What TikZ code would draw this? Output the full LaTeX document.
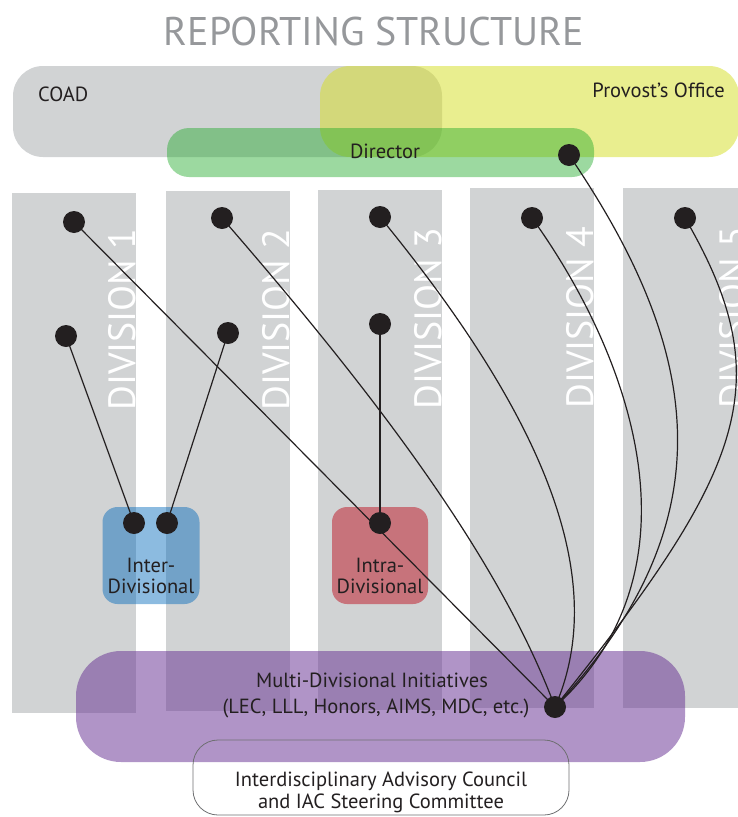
\documentclass[tikz,border=0pt]{standalone}
\usepackage{fontspec}
\setmainfont{PT Sans}
\definecolor{colgray}{RGB}{209,211,212}
\definecolor{provy}{RGB}{213,222,40}
\definecolor{dirg}{RGB}{35,171,44}
\definecolor{interb}{RGB}{0,104,187}
\definecolor{intrar}{RGB}{190,20,35}
\definecolor{multip}{RGB}{104,50,148}
\definecolor{ink}{RGB}{35,31,32}
\definecolor{titleg}{RGB}{150,152,155}
\definecolor{iacline}{RGB}{110,111,113}
\begin{document}
\begin{tikzpicture}[x=1pt,y=-1pt,
  box/.style={inner sep=0pt, outer sep=0pt, draw=none},
  column/.style={box, fill=colgray, minimum width=124pt, minimum height=520pt, anchor=north west},
  divlabel/.style={rotate=90, anchor=south west, inner sep=0pt, text=white, font=\fontsize{38}{44}\selectfont},
  dot/.style={circle, fill=ink, minimum size=22pt, inner sep=0pt, outer sep=0pt},
  conn/.style={draw=ink, line width=1.2pt},
  lbl/.style={text=ink, font=\fontsize{20.5}{24}\selectfont, inner sep=0pt},
]
\useasboundingbox (0,0) rectangle (738,817);
\clip (0,0) rectangle (738,817);

% title
\node[text=titleg, font=\fontsize{40}{46}\selectfont, anchor=base, inner sep=0pt] (title) at (374,45) {REPORTING STRUCTURE};

% top boxes
\node[box, fill=colgray, rounded corners=30pt, minimum width=429pt, minimum height=91pt] (coad) at (227.5,111.5) {};
\node[box, fill=provy, fill opacity=0.52, rounded corners=30pt, minimum width=419pt, minimum height=91pt] (provost) at (529.5,111.5) {};
\node[box, fill=dirg, fill opacity=0.45, rounded corners=22pt, minimum width=427pt, minimum height=49pt] (director) at (380.5,152.5) {};
\node[lbl, anchor=base west] (coadt) at (38,101.5) {COAD};
\node[lbl, anchor=base east] (provt) at (725,97.5) {Provost’s Office};
\node[lbl, anchor=base] (dirt) at (385,158.5) {Director};

% division columns
\node[column] (c1) at (12,193) {};
\node[column] (c2) at (166,191) {};
\node[column] (c3) at (318,190) {};
\node[column] (c4) at (470,188) {};
\node[column] (c5) at (623,188) {};
\node[divlabel] (t1) at (136,411) {DIVISION 1};
\node[divlabel] (t2) at (290,411) {DIVISION 2};
\node[divlabel] (t3) at (442,410) {DIVISION 3};
\node[divlabel] (t4) at (594,409) {DIVISION 4};
\node[divlabel] (t5) at (747,409) {DIVISION 5};

% bottom boxes
\node[box, fill=multip, fill opacity=0.52, rounded corners=45pt, minimum width=609pt, minimum height=111pt] (multi) at (380.5,706.5) {};
\node[box, fill=interb, fill opacity=0.45, rounded corners=15pt, minimum width=97pt, minimum height=97pt] (inter) at (151,555.5) {};
\node[box, fill=intrar, fill opacity=0.5, rounded corners=15pt, minimum width=96pt, minimum height=97pt] (intra) at (380,555.5) {};
\node[box, draw=iacline, line width=0.8pt, rounded corners=25pt, minimum width=376pt, minimum height=75pt] (iac) at (381,777.5) {};

\node[lbl, anchor=base] (intert1) at (151,572.5) {Inter-};
\node[lbl, anchor=base] (intert2) at (151,593) {Divisional};
\node[lbl, anchor=base] (intrat1) at (380,572.5) {Intra-};
\node[lbl, anchor=base] (intrat2) at (380,593) {Divisional};
\node[lbl, anchor=base] (multit1) at (372,687.5) {Multi-Divisional Initiatives};
\node[lbl, anchor=base] (multit2) at (376,713.5) {(LEC, LLL, Honors, AIMS, MDC, etc.)};
\node[lbl, anchor=base] (iact1) at (381,786.5) {Interdisciplinary Advisory Council};
\node[lbl, anchor=base] (iact2) at (381,808.5) {and IAC Steering Committee};

% dots
\node[dot] (d1t) at (74,222) {};
\node[dot] (d2t) at (222,218) {};
\node[dot] (d3t) at (380,217) {};
\node[dot] (d4t) at (532,218) {};
\node[dot] (d5t) at (685,218) {};
\node[dot] (d1m) at (66,336) {};
\node[dot] (d2m) at (228,333) {};
\node[dot] (d3m) at (380,324) {};
\node[dot] (ia) at (134,523) {};
\node[dot] (ib) at (167,523) {};
\node[dot] (ra) at (380,523) {};
\node[dot] (md) at (555,707) {};
\node[dot] (dd) at (569,155) {};

% connectors
\draw[conn] (d1m.center) -- (ia.center);
\draw[conn] (d2m.center) -- (ib.center);
\draw[conn] (d3m.center) -- (ra.center);
\draw[conn] (d1t.center) -- (md.center);
\draw[conn] (d2t.center) .. controls (380,400) and (500,560) .. (md.center);
\draw[conn] (d3t.center) .. controls (530,400) and (615,570) .. (md.center);
\draw[conn] (d4t.center) .. controls (620,340) and (715,560) .. (md.center);
\draw[conn] (dd.center) .. controls (702,350) and (730,520) .. (md.center);
\draw[conn] (d5t.center) .. controls (781,383) and (745,470) .. (md.center);
\end{tikzpicture}
\end{document}
